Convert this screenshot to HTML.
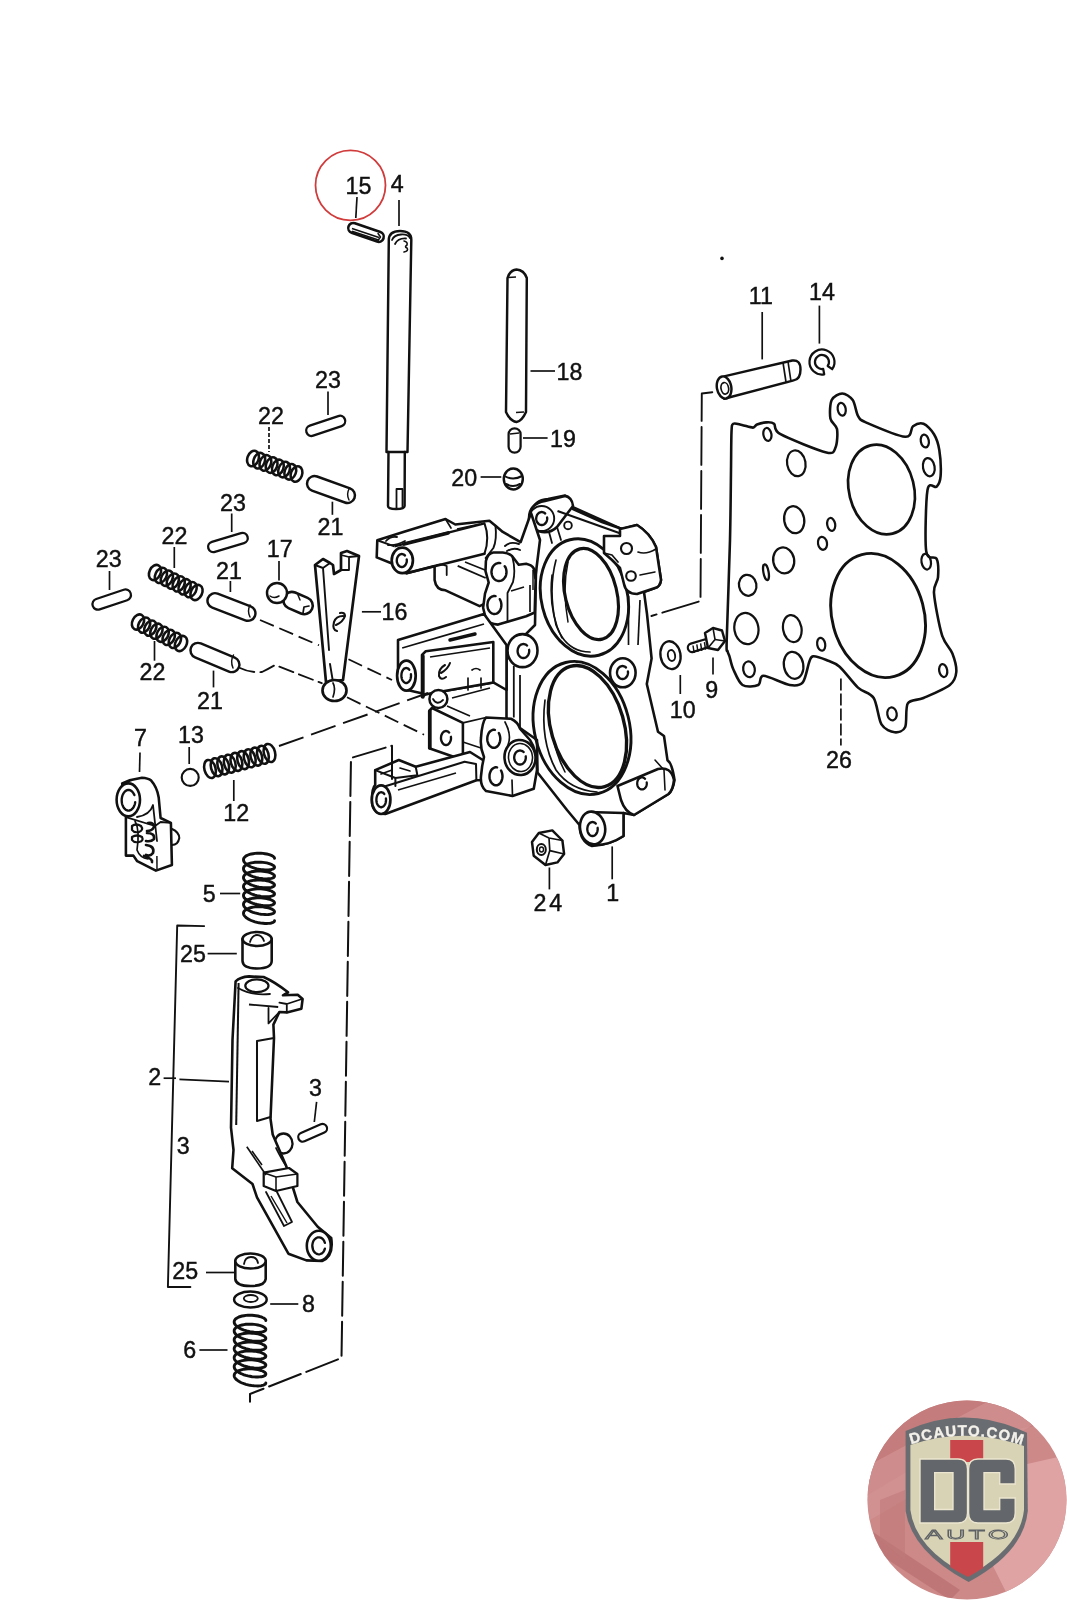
<!DOCTYPE html>
<html><head><meta charset="utf-8"><style>
html,body{margin:0;padding:0;background:#fff;}
body{width:1067px;height:1600px;overflow:hidden;position:relative;}
svg{position:absolute;left:0;top:0;will-change:transform;}
text{font-family:"Liberation Sans",sans-serif;}
</style></head><body>
<svg width="1067" height="1600" viewBox="0 0 1067 1600">
<path d="M531,513 Q534,500 548,499 L565,495.5 Q571,497 573,509 L602,522 L622,529 L637,525 Q650,533 656,547 L661,580 Q660,587 655,588 L644,592 L647,614 L651.6,658.5 L646.8,684 L658,731.7 L664,736 L667.5,760.4 Q672,763 674.5,780 Q673,790 668.5,794 L634,815 L623.5,813 L623.5,836 Q610,845 592,846 Q580,842 579.5,825 L567,810 L537.5,772.5 L537,740 L520,728 L506.5,718 L506.5,660 L520,640 L535,625 L536,570 L531,535 Z" fill="#fff" stroke="#111" stroke-width="2.58" stroke-linejoin="round" stroke-linecap="round" />
<ellipse cx="584.4" cy="597.5" rx="43" ry="59.5" fill="none" stroke="#111" stroke-width="2.91" transform="rotate(-14 584.4 597.5)"/>
<path d="M556,560 Q548,590 556,625 Q566,652 590,652" fill="none" stroke="#111" stroke-width="1.68" stroke-linejoin="round" stroke-linecap="round" />
<path d="M552,575 Q548,610 562,638" fill="none" stroke="#111" stroke-width="1.57" stroke-linejoin="round" stroke-linecap="round" />
<ellipse cx="591" cy="594" rx="25.8" ry="46.5" fill="#fff" stroke="#111" stroke-width="3.14" transform="rotate(-14 591 594)"/>
<path d="M568,562 Q562,590 568,622" fill="none" stroke="#111" stroke-width="1.46" stroke-linejoin="round" stroke-linecap="round" />
<ellipse cx="582" cy="728" rx="47.5" ry="67.5" fill="none" stroke="#111" stroke-width="2.91" transform="rotate(-14 582 728)"/>
<path d="M545,700 Q540,740 556,770 Q570,790 597,792" fill="none" stroke="#111" stroke-width="1.68" stroke-linejoin="round" stroke-linecap="round" />
<path d="M552,690 Q546,735 565,772" fill="none" stroke="#111" stroke-width="1.57" stroke-linejoin="round" stroke-linecap="round" />
<ellipse cx="587.5" cy="726.5" rx="36.5" ry="62.5" fill="#fff" stroke="#111" stroke-width="3.36" transform="rotate(-16 587.5 726.5)"/>
<path d="M529,518 Q529,504 545,501 L565,496 Q572,497 573,506 L557,527 Q551,533 542,532 Q529,530 529,518 Z" fill="#fff" stroke="#111" stroke-width="2.58" stroke-linejoin="round" stroke-linecap="round" />
<circle cx="541.7" cy="518.5" r="12.5" fill="none" stroke="#111" stroke-width="1.90"/>
<path d="M547.1,517.4 L547.2,518.3 L547.2,519.2 L547.0,520.1 L546.8,520.9 L546.5,521.8 L546.0,522.5 L545.5,523.2 L544.9,523.8 L544.3,524.2 L543.6,524.6 L542.8,524.9 L542.1,525.0 L541.3,525.0 L540.6,524.9 L539.8,524.6 L539.1,524.2 L538.5,523.8 L537.9,523.2 L537.4,522.5 L536.9,521.8 L536.6,520.9 L536.4,520.1 L536.2,519.2 L536.2,518.3 L536.3,517.4 L536.5,516.5 L536.8,515.7 L537.1,514.9 L537.6,514.2 L538.2,513.5 L538.8,513.0 L539.5,512.6 L540.2,512.3 L540.9,512.1 L541.7,512.0 L542.5,512.1 L543.2,512.3 L543.9,512.6 L544.6,513.0 L545.2,513.5" fill="none" stroke="#111" stroke-width="2.35" stroke-linecap="round"/>
<path d="M549,532 L552,543 M557,527 L561,540" fill="none" stroke="#111" stroke-width="1.79" stroke-linejoin="round" stroke-linecap="round" />
<line x1="557.5" y1="511" x2="622" y2="534" stroke="#111" stroke-width="2.13"/>
<line x1="573" y1="507" x2="622" y2="529" stroke="#111" stroke-width="2.13"/>
<circle cx="568" cy="525.4" r="3.8" fill="none" stroke="#111" stroke-width="1.90"/>
<path d="M620,529 L637,525 Q650,533 656,547 L661,580 Q660,587 655,588 L637,594 Q626,594 624,584 L620,568 L612,560 L604,553 L604,536 L620,536 Z" fill="#fff" stroke="#111" stroke-width="2.58" stroke-linejoin="round" stroke-linecap="round" />
<path d="M604,553 L612,555 L618,562" fill="none" stroke="#111" stroke-width="1.68" stroke-linejoin="round" stroke-linecap="round" />
<path d="M638,552 Q646,555 656,549" fill="none" stroke="#111" stroke-width="1.68" stroke-linejoin="round" stroke-linecap="round" />
<path d="M640,575 L655,572" fill="none" stroke="#111" stroke-width="1.57" stroke-linejoin="round" stroke-linecap="round" />
<circle cx="626.5" cy="548.5" r="5.5" fill="none" stroke="#111" stroke-width="2.13"/>
<circle cx="631" cy="576" r="4.8" fill="none" stroke="#111" stroke-width="2.13"/>
<line x1="628.5" y1="596" x2="628.5" y2="645" stroke="#111" stroke-width="1.68"/>
<line x1="640" y1="600" x2="638" y2="645" stroke="#111" stroke-width="1.68"/>
<ellipse cx="622.8" cy="672.8" rx="12.8" ry="14.5" fill="#fff" stroke="#111" stroke-width="2.58"/>
<path d="M627.9,671.4 L628.0,672.3 L628.0,673.2 L627.8,674.1 L627.6,674.9 L627.3,675.8 L626.8,676.5 L626.3,677.2 L625.7,677.8 L625.1,678.2 L624.4,678.6 L623.6,678.9 L622.9,679.0 L622.1,679.0 L621.4,678.9 L620.6,678.6 L619.9,678.2 L619.3,677.8 L618.7,677.2 L618.2,676.5 L617.7,675.8 L617.4,674.9 L617.2,674.1 L617.0,673.2 L617.0,672.3 L617.1,671.4 L617.3,670.5 L617.6,669.7 L617.9,668.9 L618.4,668.2 L619.0,667.5 L619.6,667.0 L620.3,666.6 L621.0,666.3 L621.7,666.1 L622.5,666.0 L623.3,666.1 L624.0,666.3 L624.7,666.6 L625.4,667.0 L626.0,667.5" fill="none" stroke="#111" stroke-width="2.35" stroke-linecap="round"/>
<path d="M617.5,786 L658,769 Q671,766 674,780 Q673,790 668.5,794 L634,815 Q625,812 621,800 Z" fill="#fff" stroke="#111" stroke-width="2.58" stroke-linejoin="round" stroke-linecap="round" />
<path d="M646.7,782.4 L646.8,783.2 L646.8,784.0 L646.7,784.9 L646.5,785.6 L646.2,786.4 L645.8,787.1 L645.3,787.7 L644.8,788.3 L644.3,788.7 L643.6,789.0 L643.0,789.3 L642.3,789.4 L641.7,789.4 L641.0,789.3 L640.4,789.0 L639.7,788.7 L639.2,788.3 L638.7,787.7 L638.2,787.1 L637.8,786.4 L637.5,785.6 L637.3,784.9 L637.2,784.0 L637.2,783.2 L637.3,782.4 L637.4,781.5 L637.7,780.8 L638.0,780.0 L638.4,779.4 L638.9,778.8 L639.5,778.3 L640.0,777.9 L640.7,777.6 L641.3,777.5 L642.0,777.4 L642.7,777.5 L643.3,777.6 L644.0,777.9 L644.5,778.3 L645.1,778.8" fill="none" stroke="#111" stroke-width="2.24" stroke-linecap="round"/>
<path d="M655,760 L664,770 L665,790" fill="none" stroke="#111" stroke-width="1.57" stroke-linejoin="round" stroke-linecap="round" />
<path d="M623.5,813 L623.5,836 Q610,845 595,845 L588,812 Z" fill="#fff" stroke="#111" stroke-width="2.58" stroke-linejoin="round" stroke-linecap="round" />
<ellipse cx="592.6" cy="828" rx="12.5" ry="16.5" fill="#fff" stroke="#111" stroke-width="2.58" transform="rotate(-10 592.6 828)"/>
<path d="M597.6,827.8 L597.7,828.8 L597.7,829.7 L597.5,830.7 L597.3,831.6 L597.0,832.5 L596.6,833.3 L596.1,834.0 L595.6,834.7 L594.9,835.2 L594.3,835.6 L593.6,835.8 L592.9,836.0 L592.1,836.0 L591.4,835.8 L590.7,835.6 L590.1,835.2 L589.4,834.7 L588.9,834.0 L588.4,833.3 L588.0,832.5 L587.7,831.6 L587.5,830.7 L587.3,829.7 L587.3,828.8 L587.4,827.8 L587.6,826.8 L587.8,825.9 L588.2,825.1 L588.6,824.3 L589.2,823.6 L589.7,823.1 L590.4,822.6 L591.1,822.3 L591.8,822.1 L592.5,822.0 L593.2,822.1 L593.9,822.3 L594.6,822.6 L595.3,823.1 L595.8,823.6" fill="none" stroke="#111" stroke-width="2.35" stroke-linecap="round"/>
<ellipse cx="522.5" cy="650.6" rx="15" ry="16.5" fill="#fff" stroke="#111" stroke-width="2.58"/>
<path d="M529.1,649.8 L529.2,650.8 L529.2,651.7 L529.0,652.7 L528.8,653.6 L528.4,654.5 L528.0,655.3 L527.4,656.0 L526.8,656.7 L526.1,657.2 L525.4,657.6 L524.6,657.8 L523.8,658.0 L523.0,658.0 L522.2,657.8 L521.4,657.6 L520.7,657.2 L520.0,656.7 L519.4,656.0 L518.8,655.3 L518.4,654.5 L518.0,653.6 L517.8,652.7 L517.6,651.7 L517.6,650.8 L517.7,649.8 L517.9,648.8 L518.2,647.9 L518.6,647.1 L519.1,646.3 L519.7,645.6 L520.3,645.1 L521.0,644.6 L521.8,644.3 L522.6,644.1 L523.4,644.0 L524.2,644.1 L525.0,644.3 L525.8,644.6 L526.5,645.1 L527.1,645.6" fill="none" stroke="#111" stroke-width="2.35" stroke-linecap="round"/>
<line x1="506.3" y1="657.5" x2="506.3" y2="690" stroke="#111" stroke-width="1.79"/>
<line x1="513.8" y1="666" x2="513.8" y2="717.5" stroke="#111" stroke-width="1.79"/>
<line x1="520" y1="675" x2="520" y2="735" stroke="#111" stroke-width="1.79"/>
<path d="M377.3,540.3 L404.1,531.8 L445.5,519 L455.3,524.5 L489.4,520.8 L495.5,525.7 L502.8,531.9 L520.6,542.2 L531,513 L540,540 L535,580 L479.6,606.1 L445.5,590.3 Q436,590 434.6,580 L434.6,566 L406.5,573.2 Q399,573 392,563.5 L376.7,557.4 Z" fill="#fff" stroke="#111" stroke-width="2.58" stroke-linejoin="round" stroke-linecap="round" />
<line x1="394.4" y1="546.4" x2="484.5" y2="523.3" stroke="#111" stroke-width="2.35"/>
<line x1="377.3" y1="540.3" x2="394.4" y2="546.4" stroke="#111" stroke-width="2.02"/>
<path d="M404.1,544 L448,533" fill="none" stroke="#111" stroke-width="3.81" stroke-linejoin="round" stroke-linecap="round" />
<line x1="457" y1="529" x2="480" y2="524" stroke="#111" stroke-width="1.79"/>
<path d="M445.5,519 L451,528" fill="none" stroke="#111" stroke-width="1.68" stroke-linejoin="round" stroke-linecap="round" />
<path d="M484.5,523.3 Q490,538 484.5,553.7" fill="none" stroke="#111" stroke-width="2.02" stroke-linejoin="round" stroke-linecap="round" />
<path d="M406.5,573.2 L484.5,553.7" fill="none" stroke="#111" stroke-width="2.46" stroke-linejoin="round" stroke-linecap="round" />
<path d="M386,541 Q390,536 397,537 M388,545 Q396,546 405,541" fill="none" stroke="#111" stroke-width="1.79" stroke-linejoin="round" stroke-linecap="round" />
<path d="M434.6,566 Q440,563 446.7,566 L446.7,575" fill="none" stroke="#111" stroke-width="1.79" stroke-linejoin="round" stroke-linecap="round" />
<line x1="457.7" y1="565.9" x2="485.7" y2="578" stroke="#111" stroke-width="1.90"/>
<line x1="465" y1="562" x2="490" y2="572" stroke="#111" stroke-width="1.68"/>
<path d="M495.5,525.7 Q497,540 493.4,548 L485.6,558" fill="none" stroke="#111" stroke-width="1.90" stroke-linejoin="round" stroke-linecap="round" />
<path d="M505,546 Q510,541 519,544 M507,551 Q514,547 520,550" fill="none" stroke="#111" stroke-width="1.90" stroke-linejoin="round" stroke-linecap="round" />
<ellipse cx="402.3" cy="560.4" rx="10.6" ry="12.8" fill="#fff" stroke="#111" stroke-width="2.69"/>
<path d="M406.7,559.4 L406.8,560.3 L406.8,561.2 L406.7,562.1 L406.4,562.9 L406.1,563.8 L405.7,564.5 L405.3,565.2 L404.7,565.8 L404.1,566.2 L403.5,566.6 L402.8,566.9 L402.1,567.0 L401.5,567.0 L400.8,566.9 L400.1,566.6 L399.5,566.2 L398.9,565.8 L398.3,565.2 L397.9,564.5 L397.5,563.8 L397.2,562.9 L396.9,562.1 L396.8,561.2 L396.8,560.3 L396.9,559.4 L397.0,558.5 L397.3,557.7 L397.7,556.9 L398.1,556.2 L398.6,555.5 L399.2,555.0 L399.8,554.6 L400.4,554.3 L401.1,554.1 L401.8,554.0 L402.5,554.1 L403.2,554.3 L403.8,554.6 L404.4,555.0 L405.0,555.5" fill="none" stroke="#111" stroke-width="2.35" stroke-linecap="round"/>
<path d="M485.9,561 Q488,553 493.4,552.5 L502.8,552.5 Q509,553 512.2,556.2 L518.7,564.7 L526.2,563.7 Q532,565 533.7,568.4 L535.6,579.7 L534.7,612.5 L526.2,616.2 L507.5,621.8 L498.1,624.6 Q489,624 485.9,619 L483.1,607.8 L485,593.7 L488.7,582.5 L485.5,571.2 Z" fill="#fff" stroke="#111" stroke-width="2.58" stroke-linejoin="round" stroke-linecap="round" />
<path d="M504.7,566.2 L505.4,567.2 L505.9,568.3 L506.2,569.5 L506.4,570.7 L506.5,572.0 L506.4,573.3 L506.2,574.5 L505.9,575.7 L505.4,576.8 L504.7,577.8 L504.0,578.7 L503.2,579.5 L502.3,580.1 L501.3,580.6 L500.3,580.9 L499.3,581.0 L498.2,581.0 L497.2,580.7 L496.2,580.3 L495.2,579.8 L494.4,579.1 L493.6,578.3 L492.9,577.3 L492.4,576.2 L492.0,575.1 L491.7,573.9 L491.5,572.6 L491.5,571.4 L491.7,570.1 L492.0,568.9 L492.4,567.8 L492.9,566.7 L493.6,565.7 L494.4,564.9 L495.2,564.2 L496.2,563.7 L497.2,563.3 L498.2,563.0 L499.3,563.0 L500.3,563.1" fill="none" stroke="#111" stroke-width="2.46" stroke-linecap="round"/>
<path d="M499.8,599.2 L500.3,600.2 L500.8,601.3 L501.1,602.5 L501.3,603.7 L501.4,605.0 L501.3,606.3 L501.1,607.5 L500.8,608.7 L500.3,609.8 L499.8,610.8 L499.1,611.7 L498.3,612.5 L497.5,613.1 L496.6,613.6 L495.6,613.9 L494.6,614.0 L493.7,614.0 L492.7,613.7 L491.8,613.3 L490.9,612.8 L490.1,612.1 L489.4,611.3 L488.7,610.3 L488.2,609.2 L487.8,608.1 L487.6,606.9 L487.4,605.6 L487.4,604.4 L487.6,603.1 L487.8,601.9 L488.2,600.8 L488.7,599.7 L489.4,598.7 L490.1,597.9 L490.9,597.2 L491.8,596.7 L492.7,596.3 L493.7,596.0 L494.6,596.0 L495.6,596.1" fill="none" stroke="#111" stroke-width="2.46" stroke-linecap="round"/>
<path d="M512.2,556.2 Q516,570 513,582 L507.5,593 L507.5,621.8" fill="none" stroke="#111" stroke-width="1.79" stroke-linejoin="round" stroke-linecap="round" />
<line x1="511" y1="591" x2="524" y2="587" stroke="#111" stroke-width="1.68"/>
<line x1="530" y1="585" x2="530" y2="612" stroke="#111" stroke-width="1.68"/>
<line x1="533" y1="570" x2="533" y2="590" stroke="#111" stroke-width="1.46"/>
<path d="M398,640 L484,614 L506.5,645 L506.5,690 L493.3,682.4 L425.8,694.2 L410.6,690.8 Q401,690 398,676 Z" fill="#fff" stroke="#111" stroke-width="2.58" stroke-linejoin="round" stroke-linecap="round" />
<line x1="402.2" y1="648" x2="484" y2="624" stroke="#111" stroke-width="1.79"/>
<path d="M422,655 L425.8,651.2 L493.3,642 L493.3,682.4 L425.8,694.2 L422,697 Z" fill="#fff" stroke="#111" stroke-width="2.58" stroke-linejoin="round" stroke-linecap="round" />
<path d="M423,656 L423,697" fill="none" stroke="#111" stroke-width="3.36" stroke-linejoin="round" stroke-linecap="round" />
<line x1="430" y1="657" x2="490" y2="648" stroke="#111" stroke-width="1.57"/>
<path d="M445,665 Q438,669 439,676 Q441,681 446,677 M441,673 Q448,669 450,663" fill="none" stroke="#111" stroke-width="2.02" stroke-linejoin="round" stroke-linecap="round" />
<path d="M472,670 Q476,667 480,670 M468,678 L468,690 M481,678 L481,688" fill="none" stroke="#111" stroke-width="1.68" stroke-linejoin="round" stroke-linecap="round" />
<path d="M450,640 L475,634" fill="none" stroke="#111" stroke-width="3.36" stroke-linejoin="round" stroke-linecap="round" />
<ellipse cx="406.4" cy="675.7" rx="9.3" ry="15" fill="#fff" stroke="#111" stroke-width="2.69"/>
<path d="M410.9,674.2 L411.0,675.2 L411.0,676.3 L410.9,677.3 L410.7,678.3 L410.4,679.2 L410.0,680.1 L409.5,680.9 L409.0,681.6 L408.5,682.1 L407.8,682.5 L407.2,682.8 L406.5,683.0 L405.9,683.0 L405.2,682.8 L404.6,682.5 L403.9,682.1 L403.4,681.6 L402.9,680.9 L402.4,680.1 L402.0,679.2 L401.7,678.3 L401.5,677.3 L401.4,676.3 L401.4,675.2 L401.5,674.2 L401.6,673.2 L401.9,672.2 L402.2,671.3 L402.6,670.5 L403.1,669.8 L403.7,669.1 L404.2,668.6 L404.9,668.3 L405.5,668.1 L406.2,668.0 L406.9,668.1 L407.5,668.3 L408.2,668.6 L408.7,669.1 L409.3,669.8" fill="none" stroke="#111" stroke-width="2.35" stroke-linecap="round"/>
<circle cx="438.4" cy="699" r="9" fill="#fff" stroke="#111" stroke-width="2.46"/>
<path d="M433,699 Q437,706 443,700" fill="none" stroke="#111" stroke-width="1.79" stroke-linejoin="round" stroke-linecap="round" />
<line x1="447" y1="706" x2="470" y2="716" stroke="#111" stroke-width="1.68"/>
<line x1="452" y1="698" x2="490" y2="688" stroke="#111" stroke-width="1.68"/>
<path d="M429.2,711 L432,708 L462.9,722.9 L462.9,760 L429.2,748.2 Z" fill="#fff" stroke="#111" stroke-width="2.58" stroke-linejoin="round" stroke-linecap="round" />
<path d="M430,711 L430,748" fill="none" stroke="#111" stroke-width="3.36" stroke-linejoin="round" stroke-linecap="round" />
<path d="M450.9,736.8 L451.0,737.8 L451.0,738.7 L450.9,739.7 L450.6,740.6 L450.3,741.5 L449.9,742.3 L449.5,743.0 L448.9,743.7 L448.3,744.2 L447.7,744.6 L447.0,744.8 L446.3,745.0 L445.7,745.0 L445.0,744.8 L444.3,744.6 L443.7,744.2 L443.1,743.7 L442.5,743.0 L442.1,742.3 L441.7,741.5 L441.4,740.6 L441.1,739.7 L441.0,738.7 L441.0,737.8 L441.1,736.8 L441.2,735.8 L441.5,734.9 L441.9,734.1 L442.3,733.3 L442.8,732.6 L443.4,732.1 L444.0,731.6 L444.6,731.3 L445.3,731.1 L446.0,731.0 L446.7,731.1 L447.4,731.3 L448.0,731.6 L448.6,732.1 L449.2,732.6" fill="none" stroke="#111" stroke-width="2.35" stroke-linecap="round"/>
<line x1="462.9" y1="722.9" x2="486" y2="717.5" stroke="#111" stroke-width="1.68"/>
<line x1="462.9" y1="742" x2="481" y2="748" stroke="#111" stroke-width="1.57"/>
<path d="M375.2,770.1 L398.8,760 L415.7,766.8 L470,752 L486,762 L486,780 L476.4,780.3 L385.3,814 Q372,814 372,800 Q372,788 375.2,785 Z" fill="#fff" stroke="#111" stroke-width="2.58" stroke-linejoin="round" stroke-linecap="round" />
<line x1="385.3" y1="786.2" x2="464.6" y2="761.7" stroke="#111" stroke-width="2.24"/>
<path d="M375.2,770.1 L395.4,778 L417.4,775.2 L415.7,766.8 M395.4,778 L395.4,786" fill="none" stroke="#111" stroke-width="2.02" stroke-linejoin="round" stroke-linecap="round" />
<path d="M381,774 L392,770 M400,768 L410,771" fill="none" stroke="#111" stroke-width="1.68" stroke-linejoin="round" stroke-linecap="round" />
<line x1="398" y1="790" x2="456" y2="773" stroke="#111" stroke-width="1.57"/>
<path d="M464.6,761.7 L476,764 L476.4,780.3" fill="none" stroke="#111" stroke-width="2.02" stroke-linejoin="round" stroke-linecap="round" />
<ellipse cx="381.1" cy="799.7" rx="9.3" ry="14.3" fill="#fff" stroke="#111" stroke-width="2.69"/>
<path d="M385.9,798.4 L386.0,799.4 L386.0,800.5 L385.9,801.5 L385.7,802.5 L385.4,803.5 L385.0,804.3 L384.5,805.1 L384.0,805.8 L383.5,806.3 L382.8,806.7 L382.2,807.0 L381.5,807.2 L380.9,807.2 L380.2,807.0 L379.6,806.7 L378.9,806.3 L378.4,805.8 L377.9,805.1 L377.4,804.3 L377.0,803.5 L376.7,802.5 L376.5,801.5 L376.4,800.5 L376.4,799.4 L376.5,798.4 L376.6,797.4 L376.9,796.4 L377.2,795.5 L377.6,794.7 L378.1,794.0 L378.7,793.3 L379.2,792.8 L379.9,792.5 L380.5,792.3 L381.2,792.2 L381.9,792.3 L382.5,792.5 L383.2,792.8 L383.7,793.3 L384.3,794.0" fill="none" stroke="#111" stroke-width="2.35" stroke-linecap="round"/>
<path d="M486,717.5 L511,718.75 Q518,722 520,728.75 L530,740 Q537,750 537,770 L533.75,788.75 L512.5,796 L486,791 Q480,786 481,776 Q482,765 484,757 Q480,748 481,738 Q482,722 486,717.5 Z" fill="#fff" stroke="#111" stroke-width="2.58" stroke-linejoin="round" stroke-linecap="round" />
<path d="M498.8,733.0 L499.3,734.0 L499.7,735.1 L500.0,736.3 L500.2,737.5 L500.3,738.8 L500.2,740.1 L500.0,741.3 L499.7,742.5 L499.3,743.6 L498.8,744.6 L498.1,745.5 L497.4,746.3 L496.6,746.9 L495.8,747.4 L494.9,747.7 L494.0,747.8 L493.1,747.8 L492.2,747.5 L491.4,747.1 L490.6,746.6 L489.8,745.9 L489.1,745.1 L488.5,744.1 L488.1,743.0 L487.7,741.9 L487.4,740.7 L487.3,739.4 L487.3,738.2 L487.4,736.9 L487.7,735.7 L488.1,734.6 L488.5,733.5 L489.1,732.5 L489.8,731.7 L490.6,731.0 L491.4,730.5 L492.2,730.1 L493.1,729.8 L494.0,729.8 L494.9,729.9" fill="none" stroke="#111" stroke-width="2.46" stroke-linecap="round"/>
<path d="M501.0,770.5 L501.5,771.5 L501.9,772.6 L502.2,773.8 L502.4,775.0 L502.5,776.3 L502.4,777.6 L502.2,778.8 L501.9,780.0 L501.5,781.1 L501.0,782.1 L500.3,783.0 L499.6,783.8 L498.8,784.4 L498.0,784.9 L497.1,785.2 L496.2,785.3 L495.3,785.3 L494.4,785.0 L493.6,784.6 L492.8,784.1 L492.0,783.4 L491.3,782.6 L490.7,781.6 L490.3,780.5 L489.9,779.4 L489.6,778.2 L489.5,776.9 L489.5,775.7 L489.6,774.4 L489.9,773.2 L490.3,772.1 L490.7,771.0 L491.3,770.0 L492.0,769.2 L492.8,768.5 L493.6,768.0 L494.4,767.6 L495.3,767.3 L496.2,767.3 L497.1,767.4" fill="none" stroke="#111" stroke-width="2.46" stroke-linecap="round"/>
<ellipse cx="520" cy="757.5" rx="15.5" ry="17.5" fill="#fff" stroke="#111" stroke-width="2.58" transform="rotate(-5 520 757.5)"/>
<ellipse cx="520.5" cy="757.5" rx="12" ry="14" fill="none" stroke="#111" stroke-width="1.57" transform="rotate(-5 520.5 757.5)"/>
<path d="M525.7,756.3 L525.8,757.3 L525.8,758.2 L525.6,759.2 L525.4,760.1 L525.0,761.0 L524.6,761.8 L524.0,762.5 L523.4,763.2 L522.7,763.7 L522.0,764.1 L521.2,764.3 L520.4,764.5 L519.6,764.5 L518.8,764.3 L518.0,764.1 L517.3,763.7 L516.6,763.2 L516.0,762.5 L515.4,761.8 L515.0,761.0 L514.6,760.1 L514.4,759.2 L514.2,758.2 L514.2,757.3 L514.3,756.3 L514.5,755.3 L514.8,754.4 L515.2,753.6 L515.7,752.8 L516.3,752.1 L516.9,751.6 L517.6,751.1 L518.4,750.8 L519.2,750.6 L520.0,750.5 L520.8,750.6 L521.6,750.8 L522.4,751.1 L523.1,751.6 L523.7,752.1" fill="none" stroke="#111" stroke-width="2.35" stroke-linecap="round"/>
<path d="M505,722 Q512,735 508,745" fill="none" stroke="#111" stroke-width="1.68" stroke-linejoin="round" stroke-linecap="round" />
<path d="M512.5,796 L512,780" fill="none" stroke="#111" stroke-width="1.68" stroke-linejoin="round" stroke-linecap="round" />
<circle cx="350.5" cy="185.3" r="35" fill="none" stroke="#d13b3b" stroke-width="1.79"/>
<text x="0" y="0" font-size="24.5" text-anchor="middle" fill="#111" stroke="#111" stroke-width="0.45" letter-spacing="0" transform="translate(358.4 193.8) scale(0.95 1)">15</text>
<text x="0" y="0" font-size="24.5" text-anchor="middle" fill="#111" stroke="#111" stroke-width="0.45" letter-spacing="0" transform="translate(397.2 191.8) scale(0.95 1)">4</text>
<line x1="357" y1="197" x2="355.8" y2="218" stroke="#111" stroke-width="1.68"/>
<line x1="399" y1="200" x2="399" y2="226" stroke="#111" stroke-width="1.68"/>
<rect x="347.5" y="227.4" width="37.0" height="10" rx="5.0" ry="5.0" fill="#fff" stroke="#111" stroke-width="2.58" transform="rotate(19.1 366.0 232.4)"/>
<line x1="352" y1="228.5" x2="379" y2="237.5" stroke="#111" stroke-width="1.46"/>
<line x1="352" y1="231.3" x2="378.5" y2="240" stroke="#111" stroke-width="1.46"/>
<path d="M378,233.5 L380.5,237 L378,240.5" fill="none" stroke="#111" stroke-width="1.46" stroke-linejoin="round" stroke-linecap="round" />
<path d="M386.5,452 L388.8,240 Q389,231 400,231 Q411.5,231 411.3,240 L407.5,452 Z" fill="#fff" stroke="#111" stroke-width="2.46" stroke-linejoin="round" stroke-linecap="round" />
<path d="M392,240 Q394,235 401,234.5 Q408,234 410,238 M395,244 Q398,238 406,238.5" fill="none" stroke="#111" stroke-width="1.79" stroke-linejoin="round" stroke-linecap="round" />
<path d="M404,241 Q408,242 407,245 Q404,247 407,248 Q409,251 404,252" fill="none" stroke="#111" stroke-width="1.57" stroke-linejoin="round" stroke-linecap="round" />
<line x1="389" y1="452" x2="407.5" y2="452" stroke="#111" stroke-width="2.02"/>
<path d="M388.5,452 L388,506 Q388,509 396,509 Q404.5,509 404.6,506 L404.8,452" fill="none" stroke="#111" stroke-width="2.46" stroke-linejoin="round" stroke-linecap="round" />
<path d="M396.5,509 L396.5,489 L402.5,489 L402.5,507" fill="none" stroke="#111" stroke-width="1.79" stroke-linejoin="round" stroke-linecap="round" />
<path d="M507.5,278 Q510,270 516.5,269.5 Q524,270 526.8,278 L526,412 Q522,421 516.5,422 Q510,421 506,412 Z" fill="#fff" stroke="#111" stroke-width="2.46" stroke-linejoin="round" stroke-linecap="round" />
<line x1="508" y1="277.5" x2="516" y2="277" stroke="#111" stroke-width="1.34"/>
<line x1="516" y1="412.5" x2="524" y2="412" stroke="#111" stroke-width="1.34"/>
<line x1="530.5" y1="371" x2="555" y2="371" stroke="#111" stroke-width="1.68"/>
<text x="0" y="0" font-size="24.5" text-anchor="middle" fill="#111" stroke="#111" stroke-width="0.45" letter-spacing="0" transform="translate(569.5 379.6) scale(0.95 1)">18</text>
<rect x="508.6" y="428.3" width="12" height="24.4" rx="6" ry="6" fill="#fff" stroke="#111" stroke-width="2.24"/>
<line x1="510" y1="434" x2="519" y2="433" stroke="#111" stroke-width="1.34"/>
<line x1="523" y1="438" x2="547.6" y2="438" stroke="#111" stroke-width="1.68"/>
<text x="0" y="0" font-size="24.5" text-anchor="middle" fill="#111" stroke="#111" stroke-width="0.45" letter-spacing="0" transform="translate(562.9 446.6) scale(0.95 1)">19</text>
<ellipse cx="513.3" cy="479" rx="9.5" ry="10.5" fill="#fff" stroke="#111" stroke-width="2.46"/>
<path d="M504.5,476 Q513,481 522,476" fill="none" stroke="#111" stroke-width="2.02" stroke-linejoin="round" stroke-linecap="round" />
<path d="M506,484 Q513,488 520,484" fill="none" stroke="#111" stroke-width="2.02" stroke-linejoin="round" stroke-linecap="round" />
<line x1="480.6" y1="477" x2="501.3" y2="477" stroke="#111" stroke-width="1.68"/>
<text x="0" y="0" font-size="24.5" text-anchor="middle" fill="#111" stroke="#111" stroke-width="0.45" letter-spacing="0" transform="translate(464.2 485.6) scale(0.95 1)">20</text>
<text x="0" y="0" font-size="24.5" text-anchor="middle" fill="#111" stroke="#111" stroke-width="0.45" letter-spacing="0" transform="translate(328 387.6) scale(0.95 1)">23</text>
<line x1="328" y1="391.5" x2="328" y2="415" stroke="#111" stroke-width="1.68"/>
<rect x="305.4" y="420.6" width="40.6" height="10.5" rx="5.25" ry="5.25" fill="#fff" stroke="#111" stroke-width="2.35" transform="rotate(-18.7 325.8 425.8)"/>
<text x="0" y="0" font-size="24.5" text-anchor="middle" fill="#111" stroke="#111" stroke-width="0.45" letter-spacing="0" transform="translate(270.9 424.3) scale(0.95 1)">22</text>
<line x1="269" y1="427" x2="269" y2="452" stroke="#111" stroke-width="1.68" stroke-dasharray="4,2"/>
<ellipse cx="253.0" cy="458.5" rx="5.6" ry="8.0" fill="none" stroke="#111" stroke-width="2.58" transform="rotate(19.6 253.0 458.5)"/>
<ellipse cx="259.2" cy="460.7" rx="5.6" ry="8.0" fill="none" stroke="#111" stroke-width="2.58" transform="rotate(19.6 259.2 460.7)"/>
<ellipse cx="265.4" cy="462.9" rx="5.6" ry="8.0" fill="none" stroke="#111" stroke-width="2.58" transform="rotate(19.6 265.4 462.9)"/>
<ellipse cx="271.6" cy="465.1" rx="5.6" ry="8.0" fill="none" stroke="#111" stroke-width="2.58" transform="rotate(19.6 271.6 465.1)"/>
<ellipse cx="277.9" cy="467.4" rx="5.6" ry="8.0" fill="none" stroke="#111" stroke-width="2.58" transform="rotate(19.6 277.9 467.4)"/>
<ellipse cx="284.1" cy="469.6" rx="5.6" ry="8.0" fill="none" stroke="#111" stroke-width="2.58" transform="rotate(19.6 284.1 469.6)"/>
<ellipse cx="290.3" cy="471.8" rx="5.6" ry="8.0" fill="none" stroke="#111" stroke-width="2.58" transform="rotate(19.6 290.3 471.8)"/>
<ellipse cx="296.5" cy="474.0" rx="5.6" ry="8.0" fill="none" stroke="#111" stroke-width="2.58" transform="rotate(19.6 296.5 474.0)"/>
<rect x="306.0" y="482.0" width="50.0" height="15" rx="7.5" ry="7.5" fill="#fff" stroke="#111" stroke-width="2.46" transform="rotate(19.9 331.0 489.5)"/>
<path d="M349.5,488 Q346,494 349,500" fill="none" stroke="#111" stroke-width="1.46" stroke-linejoin="round" stroke-linecap="round" />
<text x="0" y="0" font-size="24.5" text-anchor="middle" fill="#111" stroke="#111" stroke-width="0.45" letter-spacing="0" transform="translate(330.5 534.5) scale(0.95 1)">21</text>
<line x1="332.4" y1="501.7" x2="332.4" y2="514.8" stroke="#111" stroke-width="1.68"/>
<text x="0" y="0" font-size="24.5" text-anchor="middle" fill="#111" stroke="#111" stroke-width="0.45" letter-spacing="0" transform="translate(232.9 511) scale(0.95 1)">23</text>
<line x1="231.7" y1="513.5" x2="231.7" y2="532" stroke="#111" stroke-width="1.68"/>
<rect x="207.5" y="537.2" width="40.9" height="10.5" rx="5.25" ry="5.25" fill="#fff" stroke="#111" stroke-width="2.35" transform="rotate(-16.8 228.0 542.5)"/>
<text x="0" y="0" font-size="24.5" text-anchor="middle" fill="#111" stroke="#111" stroke-width="0.45" letter-spacing="0" transform="translate(174.5 543.7) scale(0.95 1)">22</text>
<line x1="174.3" y1="547" x2="174.3" y2="568" stroke="#111" stroke-width="1.68"/>
<ellipse cx="155.0" cy="572.5" rx="5.6" ry="8.0" fill="none" stroke="#111" stroke-width="2.58" transform="rotate(25.7 155.0 572.5)"/>
<ellipse cx="160.9" cy="575.4" rx="5.6" ry="8.0" fill="none" stroke="#111" stroke-width="2.58" transform="rotate(25.7 160.9 575.4)"/>
<ellipse cx="166.9" cy="578.2" rx="5.6" ry="8.0" fill="none" stroke="#111" stroke-width="2.58" transform="rotate(25.7 166.9 578.2)"/>
<ellipse cx="172.8" cy="581.1" rx="5.6" ry="8.0" fill="none" stroke="#111" stroke-width="2.58" transform="rotate(25.7 172.8 581.1)"/>
<ellipse cx="178.7" cy="583.9" rx="5.6" ry="8.0" fill="none" stroke="#111" stroke-width="2.58" transform="rotate(25.7 178.7 583.9)"/>
<ellipse cx="184.6" cy="586.8" rx="5.6" ry="8.0" fill="none" stroke="#111" stroke-width="2.58" transform="rotate(25.7 184.6 586.8)"/>
<ellipse cx="190.6" cy="589.6" rx="5.6" ry="8.0" fill="none" stroke="#111" stroke-width="2.58" transform="rotate(25.7 190.6 589.6)"/>
<ellipse cx="196.5" cy="592.5" rx="5.6" ry="8.0" fill="none" stroke="#111" stroke-width="2.58" transform="rotate(25.7 196.5 592.5)"/>
<rect x="206.3" y="599.5" width="50.3" height="15" rx="7.5" ry="7.5" fill="#fff" stroke="#111" stroke-width="2.46" transform="rotate(21.0 231.5 607.0)"/>
<path d="M250,605 Q247,611 250,617" fill="none" stroke="#111" stroke-width="1.46" stroke-linejoin="round" stroke-linecap="round" />
<text x="0" y="0" font-size="24.5" text-anchor="middle" fill="#111" stroke="#111" stroke-width="0.45" letter-spacing="0" transform="translate(229 579.3) scale(0.95 1)">21</text>
<line x1="230.4" y1="581" x2="230.4" y2="592" stroke="#111" stroke-width="1.68"/>
<text x="0" y="0" font-size="24.5" text-anchor="middle" fill="#111" stroke="#111" stroke-width="0.45" letter-spacing="0" transform="translate(108.8 566.5) scale(0.95 1)">23</text>
<line x1="109.5" y1="571" x2="109.5" y2="590" stroke="#111" stroke-width="1.68"/>
<rect x="91.7" y="594.1" width="40.0" height="11" rx="5.5" ry="5.5" fill="#fff" stroke="#111" stroke-width="2.24" transform="rotate(-18.5 111.7 599.6)"/>
<text x="0" y="0" font-size="24.5" text-anchor="middle" fill="#111" stroke="#111" stroke-width="0.45" letter-spacing="0" transform="translate(152.4 680.4) scale(0.95 1)">22</text>
<line x1="154.5" y1="641" x2="154.5" y2="660.7" stroke="#111" stroke-width="1.68"/>
<ellipse cx="138.0" cy="622.0" rx="5.6" ry="8.0" fill="none" stroke="#111" stroke-width="2.58" transform="rotate(26.6 138.0 622.0)"/>
<ellipse cx="144.1" cy="625.1" rx="5.6" ry="8.0" fill="none" stroke="#111" stroke-width="2.58" transform="rotate(26.6 144.1 625.1)"/>
<ellipse cx="150.3" cy="628.1" rx="5.6" ry="8.0" fill="none" stroke="#111" stroke-width="2.58" transform="rotate(26.6 150.3 628.1)"/>
<ellipse cx="156.4" cy="631.2" rx="5.6" ry="8.0" fill="none" stroke="#111" stroke-width="2.58" transform="rotate(26.6 156.4 631.2)"/>
<ellipse cx="162.6" cy="634.3" rx="5.6" ry="8.0" fill="none" stroke="#111" stroke-width="2.58" transform="rotate(26.6 162.6 634.3)"/>
<ellipse cx="168.7" cy="637.4" rx="5.6" ry="8.0" fill="none" stroke="#111" stroke-width="2.58" transform="rotate(26.6 168.7 637.4)"/>
<ellipse cx="174.9" cy="640.4" rx="5.6" ry="8.0" fill="none" stroke="#111" stroke-width="2.58" transform="rotate(26.6 174.9 640.4)"/>
<ellipse cx="181.0" cy="643.5" rx="5.6" ry="8.0" fill="none" stroke="#111" stroke-width="2.58" transform="rotate(26.6 181.0 643.5)"/>
<rect x="189.0" y="650.0" width="51.8" height="15" rx="7.5" ry="7.5" fill="#fff" stroke="#111" stroke-width="2.46" transform="rotate(22.7 214.9 657.5)"/>
<path d="M233.5,655 Q230,661 233,668" fill="none" stroke="#111" stroke-width="1.46" stroke-linejoin="round" stroke-linecap="round" />
<text x="0" y="0" font-size="24.5" text-anchor="middle" fill="#111" stroke="#111" stroke-width="0.45" letter-spacing="0" transform="translate(210 708.5) scale(0.95 1)">21</text>
<line x1="213.5" y1="670.6" x2="213.5" y2="687.4" stroke="#111" stroke-width="1.68"/>
<text x="0" y="0" font-size="24.5" text-anchor="middle" fill="#111" stroke="#111" stroke-width="0.45" letter-spacing="0" transform="translate(279.7 556.7) scale(0.95 1)">17</text>
<line x1="279" y1="561" x2="279" y2="580.6" stroke="#111" stroke-width="1.68"/>
<rect x="282.8" y="594.5" width="30.5" height="17" rx="8.5" ry="8.5" fill="#fff" stroke="#111" stroke-width="2.58" transform="rotate(23.2 298.0 603.0)"/>
<path d="M303,613 L304,607 L309,606" fill="none" stroke="#111" stroke-width="1.68" stroke-linejoin="round" stroke-linecap="round" />
<path d="M298,595 L300,600" fill="none" stroke="#111" stroke-width="1.46" stroke-linejoin="round" stroke-linecap="round" />
<circle cx="277" cy="593" r="10" fill="#fff" stroke="#111" stroke-width="2.46"/>
<path d="M270,596 Q274,599 279,596" fill="none" stroke="#111" stroke-width="1.46" stroke-linejoin="round" stroke-linecap="round" />
<path d="M315,565 L323,559 L330,563 L333,565 L334,574 L341,570 L341,553 L347,551 L359,556 L343,680 L326,682 Z" fill="#fff" stroke="#111" stroke-width="2.69" stroke-linejoin="round" stroke-linecap="round" />
<path d="M315,565 L323,568 L330,563 M323,568 L329,650 M330,664 L333,682" fill="none" stroke="#111" stroke-width="1.90" stroke-linejoin="round" stroke-linecap="round" />
<path d="M341,555 L349,557 L359,556 M349,557 L349,570 L341,570" fill="none" stroke="#111" stroke-width="1.79" stroke-linejoin="round" stroke-linecap="round" />
<ellipse cx="334.5" cy="690.5" rx="12" ry="10.5" fill="#fff" stroke="#111" stroke-width="2.69"/>
<path d="M333,683 Q336,688 333,697" fill="none" stroke="#111" stroke-width="1.68" stroke-linejoin="round" stroke-linecap="round" />
<path d="M343,616 Q336,616 334,622 Q332,630 337,631 M336,625 Q343,622 345,616 Q345,612 340,613" fill="none" stroke="#111" stroke-width="2.13" stroke-linejoin="round" stroke-linecap="round" />
<line x1="361.9" y1="611.8" x2="381" y2="611.8" stroke="#111" stroke-width="1.68"/>
<text x="0" y="0" font-size="24.5" text-anchor="middle" fill="#111" stroke="#111" stroke-width="0.45" letter-spacing="0" transform="translate(394.5 620.3) scale(0.95 1)">16</text>
<line x1="260" y1="620" x2="319" y2="645.3" stroke="#111" stroke-width="1.79" stroke-dasharray="15,6"/>
<line x1="348.5" y1="659.3" x2="392" y2="680" stroke="#111" stroke-width="1.79" stroke-dasharray="15,6"/>
<path d="M240,668 Q250,673 262,672 Q270,668 275,665 L321.8,683.2" fill="none" stroke="#111" stroke-width="1.79" stroke-linejoin="round" stroke-linecap="round" stroke-dasharray="15,6"/>
<line x1="347" y1="697.3" x2="424" y2="734.7" stroke="#111" stroke-width="1.79" stroke-dasharray="15,6"/>
<path d="M731.5,432.0 C731.8,425.1 731.7,424.8 733.3,423.7 C734.9,422.6 739.0,424.4 742.0,425.0 C745.0,425.6 750.8,427.7 753.0,427.6 C755.2,427.5 755.0,425.3 757.0,424.5 C759.0,423.7 763.5,422.5 766.0,422.4 C768.5,422.3 771.8,421.9 774.0,423.7 C776.2,425.5 772.6,429.9 780.5,434.2 C788.4,438.5 818.1,450.5 826.4,452.5 C834.7,454.5 834.0,450.8 835.6,447.3 C837.2,443.8 837.8,433.3 837.0,429.0 C836.2,424.7 831.2,422.8 830.4,418.4 C829.6,414.0 829.9,403.7 831.7,400.0 C833.5,396.3 839.1,393.5 842.2,393.5 C845.4,393.5 850.3,396.7 852.7,400.0 C855.1,403.3 856.0,412.4 858.0,415.8 C860.0,419.2 858.7,419.2 865.8,422.4 C872.9,425.5 898.1,436.2 905.2,436.8 C912.3,437.4 910.3,428.3 913.0,426.3 C915.7,424.3 920.4,422.5 923.5,423.7 C926.6,424.9 931.6,430.3 934.0,434.2 C936.4,438.1 938.3,443.7 939.3,450.0 C940.3,456.3 941.0,470.7 940.6,476.2 C940.2,481.7 938.7,484.6 936.7,486.7 C934.7,488.8 929.1,480.3 927.5,490.0 C925.9,499.7 924.8,540.9 926.2,551.2 C927.6,561.6 934.9,555.1 936.7,559.0 C938.5,562.9 938.4,572.3 938.0,577.4 C937.6,582.5 933.4,584.5 934.0,593.2 C934.6,601.9 939.2,626.2 942.0,635.2 C944.8,644.2 950.3,648.0 952.4,653.5 C954.5,659.0 956.7,667.3 956.3,672.0 C955.9,676.7 954.7,681.1 949.8,685.0 C944.9,688.9 929.8,695.2 923.5,698.0 C917.2,700.8 910.5,699.0 907.8,703.4 C905.1,707.8 907.2,722.7 905.2,727.0 C903.2,731.3 898.3,732.7 894.7,732.3 C891.1,731.9 884.6,729.5 881.5,724.4 C878.4,719.3 877.2,703.5 873.7,698.0 C870.2,692.5 863.1,692.3 858.0,687.6 C852.9,682.9 844.3,670.8 839.6,666.7 C834.9,662.6 830.3,661.6 826.4,660.0 C822.5,658.4 815.8,656.0 813.3,656.2 C810.8,656.4 811.0,657.5 809.4,661.4 C807.8,665.3 805.8,678.9 802.8,682.4 C799.8,685.9 795.6,686.0 789.7,685.0 C783.8,684.0 768.2,675.8 763.5,675.8 C758.8,675.8 761.4,683.6 758.2,685.0 C755.1,686.4 746.2,687.4 742.5,685.0 C738.8,682.6 735.3,673.6 733.3,669.3 C731.3,665.0 730.3,658.9 729.4,656.2 C728.5,653.5 727.9,653.4 727.5,651.0 C727.1,648.6 726.3,656.6 726.7,640.0 C727.1,623.4 729.4,565.5 730.0,540.0 C730.6,514.5 730.8,486.2 731.0,470.0 C731.2,453.8 731.2,438.9 731.5,432.0 Z" fill="#fff" stroke="#111" stroke-width="2.58" stroke-linejoin="round" stroke-linecap="round" />
<ellipse cx="767.4" cy="434.4" rx="4" ry="6.5" fill="none" stroke="#111" stroke-width="2.24" transform="rotate(-10 767.4 434.4)"/>
<ellipse cx="796.3" cy="463.3" rx="9.2" ry="13" fill="none" stroke="#111" stroke-width="2.24" transform="rotate(-10 796.3 463.3)"/>
<ellipse cx="794.2" cy="519.7" rx="10" ry="13.6" fill="none" stroke="#111" stroke-width="2.24" transform="rotate(-10 794.2 519.7)"/>
<ellipse cx="783.7" cy="560.4" rx="10.5" ry="13" fill="none" stroke="#111" stroke-width="2.24" transform="rotate(-10 783.7 560.4)"/>
<ellipse cx="766" cy="572.2" rx="2.6" ry="8" fill="none" stroke="#111" stroke-width="2.24" transform="rotate(-10 766 572.2)"/>
<ellipse cx="747.7" cy="585.3" rx="8.7" ry="10.5" fill="none" stroke="#111" stroke-width="2.24" transform="rotate(-10 747.7 585.3)"/>
<ellipse cx="746.4" cy="628.6" rx="12" ry="15.7" fill="none" stroke="#111" stroke-width="2.24" transform="rotate(-10 746.4 628.6)"/>
<ellipse cx="792.3" cy="628.6" rx="9.2" ry="13.6" fill="none" stroke="#111" stroke-width="2.24" transform="rotate(-10 792.3 628.6)"/>
<ellipse cx="793.6" cy="665.3" rx="9.7" ry="13.6" fill="none" stroke="#111" stroke-width="2.24" transform="rotate(-10 793.6 665.3)"/>
<ellipse cx="749" cy="669.3" rx="5.8" ry="7.9" fill="none" stroke="#111" stroke-width="2.24" transform="rotate(-10 749 669.3)"/>
<ellipse cx="831.2" cy="524.4" rx="4" ry="6.5" fill="none" stroke="#111" stroke-width="2.24" transform="rotate(-10 831.2 524.4)"/>
<ellipse cx="822.5" cy="543.3" rx="4.5" ry="6.5" fill="none" stroke="#111" stroke-width="2.24" transform="rotate(-10 822.5 543.3)"/>
<ellipse cx="821.2" cy="644.3" rx="4" ry="6.5" fill="none" stroke="#111" stroke-width="2.24" transform="rotate(-10 821.2 644.3)"/>
<ellipse cx="924.8" cy="441" rx="4" ry="6.5" fill="none" stroke="#111" stroke-width="2.24" transform="rotate(-10 924.8 441)"/>
<ellipse cx="928.8" cy="467.2" rx="5.8" ry="9.2" fill="none" stroke="#111" stroke-width="2.24" transform="rotate(-10 928.8 467.2)"/>
<ellipse cx="926.2" cy="561.7" rx="4.7" ry="7.9" fill="none" stroke="#111" stroke-width="2.24" transform="rotate(-10 926.2 561.7)"/>
<ellipse cx="943.2" cy="670.6" rx="4" ry="6.5" fill="none" stroke="#111" stroke-width="2.24" transform="rotate(-10 943.2 670.6)"/>
<ellipse cx="892" cy="713.9" rx="4.7" ry="6.5" fill="none" stroke="#111" stroke-width="2.24" transform="rotate(-10 892 713.9)"/>
<ellipse cx="841.7" cy="409.2" rx="4" ry="6.5" fill="none" stroke="#111" stroke-width="2.24" transform="rotate(-10 841.7 409.2)"/>
<ellipse cx="881.5" cy="489.5" rx="32.5" ry="45.5" fill="none" stroke="#111" stroke-width="2.69" transform="rotate(-14 881.5 489.5)"/>
<ellipse cx="878.1" cy="615.5" rx="46" ry="63" fill="none" stroke="#111" stroke-width="2.91" transform="rotate(-15 878.1 615.5)"/>
<text x="0" y="0" font-size="24.5" text-anchor="middle" fill="#111" stroke="#111" stroke-width="0.45" letter-spacing="0" transform="translate(838.9 767.7) scale(0.95 1)">26</text>
<line x1="840.9" y1="678.5" x2="840.9" y2="745.4" stroke="#111" stroke-width="1.68" stroke-dasharray="12,3"/>
<text x="0" y="0" font-size="24.5" text-anchor="middle" fill="#111" stroke="#111" stroke-width="0.45" letter-spacing="0" transform="translate(760.9 304.3) scale(0.95 1)">11</text>
<line x1="762.2" y1="312" x2="762.2" y2="359.4" stroke="#111" stroke-width="1.68"/>
<text x="0" y="0" font-size="24.5" text-anchor="middle" fill="#111" stroke="#111" stroke-width="0.45" letter-spacing="0" transform="translate(821.9 300.4) scale(0.95 1)">14</text>
<line x1="819.4" y1="305.6" x2="819.4" y2="343.6" stroke="#111" stroke-width="1.68"/>
<path d="M724.1,376.4 L792.3,360.5 Q800.5,359.5 800.5,369.5 Q800.5,379.5 793.6,380.4 L724.1,398.7" fill="#fff" stroke="#111" stroke-width="2.46" stroke-linejoin="round" stroke-linecap="round" />
<ellipse cx="724.1" cy="387.5" rx="7.2" ry="11.2" fill="#fff" stroke="#111" stroke-width="2.46" transform="rotate(-10 724.1 387.5)"/>
<ellipse cx="724.8" cy="388.3" rx="3.8" ry="5.8" fill="none" stroke="#111" stroke-width="1.68" transform="rotate(-10 724.8 388.3)"/>
<line x1="783" y1="362.5" x2="786" y2="382" stroke="#111" stroke-width="1.68"/>
<line x1="788" y1="361.5" x2="791" y2="381.5" stroke="#111" stroke-width="1.68"/>
<path d="M824.2,374.3 A12.5,12.5 0 1 1 832.2,369.2 L827.7,366.0 A7.0,7.0 0 1 0 823.2,368.9 Z" fill="#fff" stroke="#111" stroke-width="2.24" stroke-linejoin="round" stroke-linecap="round" />
<polyline points="712.3,392.2 701.8,393.5 700.5,601 651.4,616" fill="none" stroke="#111" stroke-width="1.90" stroke-linejoin="round" stroke-linecap="round" stroke-dasharray="38,6"/>
<circle cx="722" cy="258.4" r="1.8" fill="#111"/>
<rect x="687.5" y="641.5" width="22.0" height="8.5" rx="4.25" ry="4.25" fill="#fff" stroke="#111" stroke-width="2.24" transform="rotate(-17.2 698.5 645.8)"/>
<line x1="693.0" y1="645.5" x2="694.2" y2="653.0" stroke="#111" stroke-width="1.46"/>
<line x1="696.8" y1="644.4" x2="698.0" y2="651.9" stroke="#111" stroke-width="1.46"/>
<line x1="700.6" y1="643.3" x2="701.8000000000001" y2="650.8" stroke="#111" stroke-width="1.46"/>
<line x1="704.4" y1="642.2" x2="705.6" y2="649.7" stroke="#111" stroke-width="1.46"/>
<path d="M705,633 L713,628 L722,630.5 L725,641 L718,650 L708,648 Z" fill="#fff" stroke="#111" stroke-width="2.46" stroke-linejoin="round" stroke-linecap="round" />
<line x1="713" y1="628" x2="715" y2="639.5" stroke="#111" stroke-width="1.57"/>
<line x1="715" y1="639.5" x2="725" y2="641" stroke="#111" stroke-width="1.57"/>
<line x1="715" y1="639.5" x2="708" y2="648" stroke="#111" stroke-width="1.57"/>
<text x="0" y="0" font-size="24.5" text-anchor="middle" fill="#111" stroke="#111" stroke-width="0.45" letter-spacing="0" transform="translate(711.7 698) scale(0.95 1)">9</text>
<line x1="713" y1="657.5" x2="713" y2="674.5" stroke="#111" stroke-width="1.68"/>
<ellipse cx="670.5" cy="655.2" rx="10" ry="14" fill="#fff" stroke="#111" stroke-width="2.35" transform="rotate(-10 670.5 655.2)"/>
<ellipse cx="671.5" cy="655.5" rx="3.6" ry="5.5" fill="none" stroke="#111" stroke-width="1.90" transform="rotate(-10 671.5 655.5)"/>
<text x="0" y="0" font-size="24.5" text-anchor="middle" fill="#111" stroke="#111" stroke-width="0.45" letter-spacing="0" transform="translate(682.7 718) scale(0.95 1)">10</text>
<line x1="680.3" y1="675" x2="680.3" y2="694" stroke="#111" stroke-width="1.68"/>
<path d="M532,842 L538.8,833 L552.3,830.4 L562.4,840.5 L564.1,854 L557.4,862.4 L545.5,865 L533.7,855.7 Z" fill="#fff" stroke="#111" stroke-width="2.46" stroke-linejoin="round" stroke-linecap="round" />
<path d="M538.8,833 L549,838 L562.4,840.5 M549,838 L549.8,850.6 L564.1,854 M549.8,850.6 L545.5,865" fill="none" stroke="#111" stroke-width="1.68" stroke-linejoin="round" stroke-linecap="round" />
<ellipse cx="541.3" cy="849.5" rx="4.5" ry="5.5" fill="none" stroke="#111" stroke-width="2.02"/>
<ellipse cx="541.5" cy="849.5" rx="2" ry="2.5" fill="none" stroke="#111" stroke-width="1.34"/>
<text x="0" y="0" font-size="24.5" text-anchor="middle" fill="#111" stroke="#111" stroke-width="0.45" letter-spacing="3" transform="translate(549.3 911.3) scale(0.95 1)">24</text>
<line x1="549.4" y1="867.5" x2="549.4" y2="889.4" stroke="#111" stroke-width="1.68"/>
<text x="0" y="0" font-size="24.5" text-anchor="middle" fill="#111" stroke="#111" stroke-width="0.45" letter-spacing="0" transform="translate(612.6 901.2) scale(0.95 1)">1</text>
<line x1="612.2" y1="846.4" x2="612.2" y2="879.3" stroke="#111" stroke-width="1.68"/>
<text x="0" y="0" font-size="24.5" text-anchor="middle" fill="#111" stroke="#111" stroke-width="0.45" letter-spacing="0" transform="translate(140.5 746) scale(0.95 1)">7</text>
<line x1="140" y1="752.5" x2="139.5" y2="772" stroke="#111" stroke-width="1.68"/>
<path d="M122.2,783.4 Q132,779 141.9,777.8 Q148,778 151.2,780.6 Q157,787 158.7,797.5 L160.6,818 L170.9,822.8 L171.9,865 L155.9,870.6 L137.2,861.2 L133.4,855.6 L125.9,855.6 L125.9,817.2 Z" fill="#fff" stroke="#111" stroke-width="2.58" stroke-linejoin="round" stroke-linecap="round" />
<ellipse cx="128.3" cy="799.8" rx="11.7" ry="16.4" fill="#fff" stroke="#111" stroke-width="2.58"/>
<path d="M135.2,802.1 L135.0,803.5 L134.6,804.8 L134.1,806.1 L133.6,807.2 L132.9,808.2 L132.1,809.0 L131.3,809.7 L130.4,810.2 L129.4,810.5 L128.5,810.6 L127.6,810.5 L126.6,810.2 L125.7,809.7 L124.9,809.0 L124.1,808.2 L123.4,807.2 L122.9,806.1 L122.4,804.8 L122.0,803.5 L121.8,802.1 L121.7,800.7 L121.7,799.2 L121.9,797.8 L122.2,796.4 L122.6,795.1 L123.1,794.0 L123.8,792.9 L124.5,792.0 L125.3,791.2 L126.2,790.6 L127.1,790.2 L128.0,790.0 L129.0,790.0 L129.9,790.2 L130.8,790.6 L131.7,791.2 L132.5,792.0 L133.2,792.9 L133.9,794.0 L134.4,795.1" fill="none" stroke="#111" stroke-width="2.35" stroke-linecap="round"/>
<path d="M137,817 Q150,815 153,805 L157,841" fill="none" stroke="#111" stroke-width="1.79" stroke-linejoin="round" stroke-linecap="round" />
<path d="M125.9,817.2 L155,826 L160.6,822 L170.9,822.8" fill="none" stroke="#111" stroke-width="1.79" stroke-linejoin="round" stroke-linecap="round" />
<path d="M172,829 Q179,832 179.3,838 Q178,845 172,845" fill="none" stroke="#111" stroke-width="2.02" stroke-linejoin="round" stroke-linecap="round" />
<path d="M132,826 Q136,823 141,826 Q144,830 139,832 Q134,833 132,830 Z" fill="#fff" stroke="#111" stroke-width="2.24" stroke-linejoin="round" stroke-linecap="round" />
<path d="M132,837 Q137,834 142,837 Q144,841 139,842 Q134,843 132,840 Z" fill="#fff" stroke="#111" stroke-width="2.24" stroke-linejoin="round" stroke-linecap="round" />
<path d="M148,823 Q154,822 154,827 Q152,831 147,831 M147,833 Q155,833 154,839 Q151,842 146,841 M146,845 Q155,846 153,853 Q150,857 146,855 M144,856 Q153,859 152,862" fill="none" stroke="#111" stroke-width="2.69" stroke-linejoin="round" stroke-linecap="round" />
<path d="M135,821 Q140,830 137,850 Q140,858 148,859" fill="none" stroke="#111" stroke-width="1.68" stroke-linejoin="round" stroke-linecap="round" />
<line x1="156.9" y1="856" x2="157" y2="869" stroke="#111" stroke-width="1.46"/>
<text x="0" y="0" font-size="24.5" text-anchor="middle" fill="#111" stroke="#111" stroke-width="0.45" letter-spacing="0" transform="translate(191 743.3) scale(0.95 1)">13</text>
<line x1="189.2" y1="747" x2="189.2" y2="764" stroke="#111" stroke-width="1.68"/>
<circle cx="190.2" cy="777.4" r="8.5" fill="#fff" stroke="#111" stroke-width="2.13"/>
<text x="0" y="0" font-size="24.5" text-anchor="middle" fill="#111" stroke="#111" stroke-width="0.45" letter-spacing="0" transform="translate(236.2 820.7) scale(0.95 1)">12</text>
<line x1="233.8" y1="780" x2="233.8" y2="801" stroke="#111" stroke-width="1.68"/>
<ellipse cx="210.0" cy="769.0" rx="5.6" ry="9.2" fill="none" stroke="#111" stroke-width="2.58" transform="rotate(-15.1 210.0 769.0)"/>
<ellipse cx="216.6" cy="767.2" rx="5.6" ry="9.2" fill="none" stroke="#111" stroke-width="2.58" transform="rotate(-15.1 216.6 767.2)"/>
<ellipse cx="223.2" cy="765.4" rx="5.6" ry="9.2" fill="none" stroke="#111" stroke-width="2.58" transform="rotate(-15.1 223.2 765.4)"/>
<ellipse cx="229.8" cy="763.7" rx="5.6" ry="9.2" fill="none" stroke="#111" stroke-width="2.58" transform="rotate(-15.1 229.8 763.7)"/>
<ellipse cx="236.4" cy="761.9" rx="5.6" ry="9.2" fill="none" stroke="#111" stroke-width="2.58" transform="rotate(-15.1 236.4 761.9)"/>
<ellipse cx="243.1" cy="760.1" rx="5.6" ry="9.2" fill="none" stroke="#111" stroke-width="2.58" transform="rotate(-15.1 243.1 760.1)"/>
<ellipse cx="249.7" cy="758.3" rx="5.6" ry="9.2" fill="none" stroke="#111" stroke-width="2.58" transform="rotate(-15.1 249.7 758.3)"/>
<ellipse cx="256.3" cy="756.6" rx="5.6" ry="9.2" fill="none" stroke="#111" stroke-width="2.58" transform="rotate(-15.1 256.3 756.6)"/>
<ellipse cx="262.9" cy="754.8" rx="5.6" ry="9.2" fill="none" stroke="#111" stroke-width="2.58" transform="rotate(-15.1 262.9 754.8)"/>
<ellipse cx="269.5" cy="753.0" rx="5.6" ry="9.2" fill="none" stroke="#111" stroke-width="2.58" transform="rotate(-15.1 269.5 753.0)"/>
<line x1="279" y1="746" x2="428" y2="693" stroke="#111" stroke-width="1.90" stroke-dasharray="26,8"/>
<polyline points="392,779 392,745.7 351,758 341.5,1358 250,1394 250,1401.8" fill="none" stroke="#111" stroke-width="2.02" stroke-linejoin="round" stroke-linecap="round" stroke-dasharray="34,6"/>
<text x="0" y="0" font-size="24.5" text-anchor="middle" fill="#111" stroke="#111" stroke-width="0.45" letter-spacing="0" transform="translate(209.3 901.9) scale(0.95 1)">5</text>
<line x1="220" y1="893.5" x2="240.2" y2="893.5" stroke="#111" stroke-width="1.68"/>
<path d="M274.5,858.3 L274.4,857.7 L274.0,857.1 L273.3,856.5 L272.4,855.9 L271.3,855.4 L270.0,854.9 L268.4,854.4 L266.8,854.0 L264.9,853.7 L263.0,853.4 L261.0,853.3 L259.0,853.2 L257.0,853.3 L255.0,853.4 L253.1,853.7 L251.3,854.0 L249.6,854.4 L248.0,855.0 L246.7,855.6 L245.6,856.3 L244.7,857.1 L244.0,857.9 L243.6,858.8 L243.5,859.8 L243.6,860.7 L244.0,861.7 L244.7,862.6 L245.6,863.6 L246.7,864.5 L248.0,865.4 L249.6,866.2 L251.2,867.0 L253.1,867.7 L255.0,868.3 L257.0,868.9 L259.0,869.3 L261.0,869.6 L263.0,869.8 L264.9,870.0 L266.7,870.0 L268.4,869.9 L270.0,869.8 L271.3,869.5 L272.4,869.2 L273.3,868.8 L274.0,868.3 L274.4,867.8 L274.5,867.2 L274.4,866.6 L274.0,866.0 L273.3,865.4 L272.4,864.9 L271.3,864.3 L270.0,863.8 L268.4,863.3 L266.8,862.9 L264.9,862.6 L263.0,862.4 L261.0,862.2 L259.0,862.1 L257.0,862.2 L255.0,862.3 L253.1,862.6 L251.3,862.9 L249.6,863.4 L248.0,863.9 L246.7,864.5 L245.6,865.2 L244.7,866.0 L244.0,866.8 L243.6,867.7 L243.5,868.7 L243.6,869.6 L244.0,870.6 L244.7,871.6 L245.6,872.5 L246.7,873.4 L248.0,874.3 L249.6,875.2 L251.2,875.9 L253.1,876.6 L255.0,877.2 L257.0,877.8 L259.0,878.2 L261.0,878.5 L263.0,878.8 L264.9,878.9 L266.7,878.9 L268.4,878.8 L270.0,878.7 L271.3,878.4 L272.4,878.1 L273.3,877.7 L274.0,877.2 L274.4,876.7 L274.5,876.1 L274.4,875.5 L274.0,874.9 L273.3,874.4 L272.4,873.8 L271.3,873.2 L270.0,872.7 L268.4,872.2 L266.8,871.8 L264.9,871.5 L263.0,871.3 L261.0,871.1 L259.0,871.1 L257.0,871.1 L255.0,871.2 L253.1,871.5 L251.3,871.8 L249.6,872.3 L248.0,872.8 L246.7,873.4 L245.6,874.1 L244.7,874.9 L244.0,875.8 L243.6,876.7 L243.5,877.6 L243.6,878.5 L244.0,879.5 L244.7,880.5 L245.6,881.4 L246.7,882.4 L248.0,883.2 L249.6,884.1 L251.2,884.8 L253.1,885.5 L255.0,886.2 L257.0,886.7 L259.0,887.1 L261.0,887.4 L263.0,887.7 L264.9,887.8 L266.7,887.8 L268.4,887.8 L270.0,887.6 L271.3,887.3 L272.4,887.0 L273.3,886.6 L274.0,886.1 L274.4,885.6 L274.5,885.0 L274.4,884.5 L274.0,883.9 L273.3,883.3 L272.4,882.7 L271.3,882.1 L270.0,881.6 L268.4,881.2 L266.8,880.8 L264.9,880.4 L263.0,880.2 L261.0,880.0 L259.0,880.0 L257.0,880.0 L255.0,880.2 L253.1,880.4 L251.3,880.7 L249.6,881.2 L248.0,881.7 L246.7,882.4 L245.6,883.1 L244.7,883.8 L244.0,884.7 L243.6,885.6 L243.5,886.5 L243.6,887.5 L244.0,888.4 L244.7,889.4 L245.6,890.3 L246.7,891.3 L248.0,892.2 L249.6,893.0 L251.2,893.8 L253.1,894.5 L255.0,895.1 L257.0,895.6 L259.0,896.0 L261.0,896.4 L263.0,896.6 L264.9,896.7 L266.7,896.7 L268.4,896.7 L270.0,896.5 L271.3,896.2 L272.4,895.9 L273.3,895.5 L274.0,895.0 L274.4,894.5 L274.5,894.0 L274.4,893.4 L274.0,892.8 L273.3,892.2 L272.4,891.6 L271.3,891.0 L270.0,890.5 L268.4,890.1 L266.8,889.7 L264.9,889.3 L263.0,889.1 L261.0,888.9 L259.0,888.9 L257.0,888.9 L255.0,889.1 L253.1,889.3 L251.3,889.7 L249.6,890.1 L248.0,890.6 L246.7,891.3 L245.6,892.0 L244.7,892.8 L244.0,893.6 L243.6,894.5 L243.5,895.4 L243.6,896.4 L244.0,897.3 L244.7,898.3 L245.6,899.3 L246.7,900.2 L248.0,901.1 L249.6,901.9 L251.2,902.7 L253.1,903.4 L255.0,904.0 L257.0,904.5 L259.0,904.9 L261.0,905.3 L263.0,905.5 L264.9,905.6 L266.7,905.7 L268.4,905.6 L270.0,905.4 L271.3,905.2 L272.4,904.8 L273.3,904.4 L274.0,904.0 L274.4,903.4 L274.5,902.9 L274.4,902.3 L274.0,901.7 L273.3,901.1 L272.4,900.5 L271.3,900.0 L270.0,899.4 L268.4,899.0 L266.8,898.6 L264.9,898.3 L263.0,898.0 L261.0,897.9 L259.0,897.8 L257.0,897.8 L255.0,898.0 L253.1,898.2 L251.3,898.6 L249.6,899.0 L248.0,899.6 L246.7,900.2 L245.6,900.9 L244.7,901.7 L244.0,902.5 L243.6,903.4 L243.5,904.3 L243.6,905.3 L244.0,906.3 L244.7,907.2 L245.6,908.2 L246.7,909.1 L248.0,910.0 L249.6,910.8 L251.2,911.6 L253.1,912.3 L255.0,912.9 L257.0,913.4 L259.0,913.9 L261.0,914.2 L263.0,914.4 L264.9,914.5 L266.7,914.6 L268.4,914.5 L270.0,914.3 L271.3,914.1 L272.4,913.7 L273.3,913.3 L274.0,912.9 L274.4,912.3 L274.5,911.8 L274.4,911.2 L274.0,910.6 L273.3,910.0 L272.4,909.4 L271.3,908.9 L270.0,908.4 L268.4,907.9 L266.8,907.5 L264.9,907.2 L263.0,906.9 L261.0,906.8 L259.0,906.7 L257.0,906.8 L255.0,906.9 L253.1,907.1 L251.3,907.5 L249.6,907.9 L248.0,908.5 L246.7,909.1 L245.6,909.8 L244.7,910.6 L244.0,911.4 L243.6,912.3 L243.5,913.2 L243.6,914.2 L244.0,915.2 L244.7,916.1 L245.6,917.1 L246.7,918.0 L248.0,918.9 L249.6,919.7 L251.2,920.5 L253.1,921.2 L255.0,921.8 L257.0,922.3 L259.0,922.8 L261.0,923.1 L263.0,923.3 L264.9,923.5 L266.7,923.5 L268.4,923.4 L270.0,923.2 L271.3,923.0 L272.4,922.7 L273.3,922.2 L274.0,921.8 L274.4,921.3 L274.5,920.7" fill="none" stroke="#111" stroke-width="2.91" stroke-linejoin="round" stroke-linecap="round"/>
<polyline points="204.2,926.1 177.2,925.5 167.9,1287 190.4,1287" fill="none" stroke="#111" stroke-width="1.90" stroke-linejoin="round" stroke-linecap="round"/>
<text x="0" y="0" font-size="24.5" text-anchor="middle" fill="#111" stroke="#111" stroke-width="0.45" letter-spacing="0" transform="translate(154.6 1085) scale(0.95 1)">2</text>
<line x1="163.6" y1="1078.2" x2="176" y2="1078.2" stroke="#111" stroke-width="1.68"/>
<line x1="179.4" y1="1079.4" x2="229" y2="1081.6" stroke="#111" stroke-width="1.68"/>
<text x="0" y="0" font-size="24.5" text-anchor="middle" fill="#111" stroke="#111" stroke-width="0.45" letter-spacing="0" transform="translate(183.3 1153.6) scale(0.95 1)">3</text>
<path d="M242.5,939 L242.5,961 Q243,968.5 257,968.5 Q271.5,968.5 271.7,961 L271.7,939" fill="#fff" stroke="#111" stroke-width="2.58" stroke-linejoin="round" stroke-linecap="round" />
<ellipse cx="257.1" cy="939" rx="14.6" ry="7" fill="#fff" stroke="#111" stroke-width="2.58"/>
<path d="M250,942 Q252,935 257,935 Q262,935 264,941" fill="none" stroke="#111" stroke-width="1.79" stroke-linejoin="round" stroke-linecap="round" />
<text x="0" y="0" font-size="24.5" text-anchor="middle" fill="#111" stroke="#111" stroke-width="0.45" letter-spacing="0" transform="translate(193 961.5) scale(0.95 1)">25</text>
<line x1="207.6" y1="953.6" x2="236.8" y2="953.6" stroke="#111" stroke-width="1.68"/>
<ellipse cx="283.5" cy="1143.5" rx="9" ry="10" fill="#fff" stroke="#111" stroke-width="2.35"/>
<path d="M235.6,981.3 Q240,977 249,976.4 L263.6,977 Q275,982 288,992.3 L283,995.3 L297.7,994.7 L302.6,999 L301.4,1008.7 L286.8,1012.4 L279.4,1012 L273.4,1024.6 L274,1038 L270.5,1118.7 L272.7,1134.5 L286.2,1166 L297.4,1202 L317.7,1226.7 L331.2,1238 Q334,1256 322,1261 L306.4,1260.4 L288.4,1253.7 L257,1197.4 L252.5,1184 L232.2,1168.2 L233.5,1150 L231,1127.7 L232.5,1040 Z" fill="#fff" stroke="#111" stroke-width="2.58" stroke-linejoin="round" stroke-linecap="round" />
<line x1="238.6" y1="983" x2="236.2" y2="1125" stroke="#111" stroke-width="2.02"/>
<ellipse cx="256.9" cy="985.8" rx="11.6" ry="6.4" fill="#fff" stroke="#111" stroke-width="2.24"/>
<path d="M238,988 Q252,996 270,994" fill="none" stroke="#111" stroke-width="1.79" stroke-linejoin="round" stroke-linecap="round" />
<path d="M279.4,1002.6 L286.8,1004 L302,999 M286.8,1004 L286.8,1012.4" fill="none" stroke="#111" stroke-width="1.79" stroke-linejoin="round" stroke-linecap="round" />
<line x1="249" y1="1004.5" x2="278.2" y2="1007" stroke="#111" stroke-width="1.79"/>
<path d="M268.5,1008 L268.5,1023.4 L279.4,1012" fill="none" stroke="#111" stroke-width="1.79" stroke-linejoin="round" stroke-linecap="round" />
<path d="M257,1121 L257,1041 L274,1038 M257,1121 L270.5,1117" fill="none" stroke="#111" stroke-width="2.02" stroke-linejoin="round" stroke-linecap="round" />
<path d="M263.7,1172.7 L289,1168 L297.4,1174 L297.4,1186 L276,1191 L263.7,1186 Z" fill="#fff" stroke="#111" stroke-width="2.24" stroke-linejoin="round" stroke-linecap="round" />
<line x1="276" y1="1177" x2="276" y2="1191" stroke="#111" stroke-width="1.57"/>
<line x1="263.7" y1="1172.7" x2="276" y2="1177" stroke="#111" stroke-width="1.57"/>
<line x1="276" y1="1177" x2="297.4" y2="1174" stroke="#111" stroke-width="1.57"/>
<line x1="246.8" y1="1146.8" x2="266" y2="1175" stroke="#111" stroke-width="1.68"/>
<line x1="252" y1="1151" x2="262" y2="1165" stroke="#111" stroke-width="1.57"/>
<path d="M266,1192 L284,1226 L292,1222 L276,1190" fill="none" stroke="#111" stroke-width="1.79" stroke-linejoin="round" stroke-linecap="round" />
<line x1="271" y1="1196" x2="287" y2="1223" stroke="#111" stroke-width="1.46"/>
<path d="M276,1148 Q282,1160 286.2,1166" fill="none" stroke="#111" stroke-width="1.68" stroke-linejoin="round" stroke-linecap="round" />
<ellipse cx="318.8" cy="1245.8" rx="12" ry="15" fill="#fff" stroke="#111" stroke-width="2.58"/>
<path d="M324.9,1248.7 L324.5,1249.8 L324.1,1250.8 L323.5,1251.7 L322.8,1252.5 L322.1,1253.2 L321.2,1253.7 L320.4,1254.0 L319.5,1254.3 L318.6,1254.3 L317.7,1254.2 L316.8,1253.9 L316.0,1253.4 L315.2,1252.8 L314.5,1252.1 L313.8,1251.3 L313.3,1250.3 L312.9,1249.3 L312.6,1248.1 L312.4,1247.0 L312.3,1245.8 L312.4,1244.6 L312.6,1243.5 L312.9,1242.3 L313.3,1241.3 L313.8,1240.3 L314.5,1239.5 L315.2,1238.8 L316.0,1238.2 L316.8,1237.7 L317.7,1237.4 L318.6,1237.3 L319.5,1237.3 L320.4,1237.6 L321.2,1237.9 L322.1,1238.4 L322.8,1239.1 L323.5,1239.9 L324.1,1240.8 L324.5,1241.8 L324.9,1242.9" fill="none" stroke="#111" stroke-width="2.35" stroke-linecap="round"/>
<text x="0" y="0" font-size="24.5" text-anchor="middle" fill="#111" stroke="#111" stroke-width="0.45" letter-spacing="0" transform="translate(315.4 1096.2) scale(0.95 1)">3</text>
<line x1="316.6" y1="1101.9" x2="314.3" y2="1122" stroke="#111" stroke-width="1.68"/>
<rect x="297.3" y="1128.3" width="30.7" height="9" rx="4.5" ry="4.5" fill="#fff" stroke="#111" stroke-width="2.24" transform="rotate(-23.8 312.6 1132.8)"/>
<path d="M235.3,1261 L235.3,1279 Q236,1286 250.5,1286 Q265,1286 265.7,1279 L265.7,1261" fill="#fff" stroke="#111" stroke-width="2.58" stroke-linejoin="round" stroke-linecap="round" />
<ellipse cx="250.5" cy="1261" rx="15.2" ry="7.5" fill="#fff" stroke="#111" stroke-width="2.58"/>
<path d="M244,1264 Q245,1257 251,1257 Q257,1257 258,1263" fill="none" stroke="#111" stroke-width="1.79" stroke-linejoin="round" stroke-linecap="round" />
<text x="0" y="0" font-size="24.5" text-anchor="middle" fill="#111" stroke="#111" stroke-width="0.45" letter-spacing="0" transform="translate(185.3 1279.2) scale(0.95 1)">25</text>
<line x1="206" y1="1272.5" x2="234.2" y2="1272.5" stroke="#111" stroke-width="1.68"/>
<ellipse cx="250.4" cy="1299.5" rx="16.3" ry="8" fill="#fff" stroke="#111" stroke-width="2.46"/>
<ellipse cx="250.8" cy="1298.5" rx="7" ry="3.5" fill="none" stroke="#111" stroke-width="1.79"/>
<text x="0" y="0" font-size="24.5" text-anchor="middle" fill="#111" stroke="#111" stroke-width="0.45" letter-spacing="0" transform="translate(308.5 1311.9) scale(0.95 1)">8</text>
<line x1="270.2" y1="1304" x2="298.3" y2="1304" stroke="#111" stroke-width="1.68"/>
<path d="M265.8,1320.5 L265.7,1319.9 L265.3,1319.3 L264.6,1318.6 L263.7,1318.0 L262.5,1317.5 L261.2,1316.9 L259.6,1316.5 L257.9,1316.0 L256.0,1315.7 L254.1,1315.5 L252.1,1315.3 L250.0,1315.2 L247.9,1315.3 L245.9,1315.4 L244.0,1315.7 L242.1,1316.0 L240.4,1316.5 L238.8,1317.0 L237.5,1317.7 L236.3,1318.4 L235.4,1319.2 L234.7,1320.1 L234.3,1321.0 L234.2,1322.0 L234.3,1322.9 L234.7,1323.9 L235.4,1324.9 L236.3,1325.9 L237.5,1326.9 L238.8,1327.8 L240.4,1328.6 L242.1,1329.4 L244.0,1330.1 L245.9,1330.7 L247.9,1331.3 L250.0,1331.7 L252.1,1332.0 L254.1,1332.3 L256.0,1332.4 L257.9,1332.4 L259.6,1332.3 L261.2,1332.1 L262.5,1331.8 L263.7,1331.5 L264.6,1331.1 L265.3,1330.6 L265.7,1330.0 L265.8,1329.4 L265.7,1328.8 L265.3,1328.2 L264.6,1327.6 L263.7,1327.0 L262.5,1326.4 L261.2,1325.9 L259.6,1325.4 L257.9,1325.0 L256.0,1324.6 L254.1,1324.4 L252.1,1324.2 L250.0,1324.2 L247.9,1324.2 L245.9,1324.3 L244.0,1324.6 L242.1,1325.0 L240.4,1325.4 L238.8,1326.0 L237.5,1326.6 L236.3,1327.3 L235.4,1328.2 L234.7,1329.0 L234.3,1329.9 L234.2,1330.9 L234.3,1331.9 L234.7,1332.9 L235.4,1333.9 L236.3,1334.8 L237.5,1335.8 L238.8,1336.7 L240.4,1337.5 L242.1,1338.3 L244.0,1339.0 L245.9,1339.7 L247.9,1340.2 L250.0,1340.6 L252.1,1341.0 L254.1,1341.2 L256.0,1341.3 L257.9,1341.3 L259.6,1341.2 L261.2,1341.0 L262.5,1340.8 L263.7,1340.4 L264.6,1340.0 L265.3,1339.5 L265.7,1338.9 L265.8,1338.4 L265.7,1337.7 L265.3,1337.1 L264.6,1336.5 L263.7,1335.9 L262.5,1335.3 L261.2,1334.8 L259.6,1334.3 L257.9,1333.9 L256.0,1333.6 L254.1,1333.3 L252.1,1333.2 L250.0,1333.1 L247.9,1333.1 L245.9,1333.3 L244.0,1333.5 L242.1,1333.9 L240.4,1334.3 L238.8,1334.9 L237.5,1335.5 L236.3,1336.3 L235.4,1337.1 L234.7,1337.9 L234.3,1338.9 L234.2,1339.8 L234.3,1340.8 L234.7,1341.8 L235.4,1342.8 L236.3,1343.8 L237.5,1344.7 L238.8,1345.6 L240.4,1346.5 L242.1,1347.3 L244.0,1348.0 L245.9,1348.6 L247.9,1349.1 L250.0,1349.6 L252.1,1349.9 L254.1,1350.1 L256.0,1350.2 L257.9,1350.2 L259.6,1350.2 L261.2,1350.0 L262.5,1349.7 L263.7,1349.3 L264.6,1348.9 L265.3,1348.4 L265.7,1347.9 L265.8,1347.3 L265.7,1346.7 L265.3,1346.1 L264.6,1345.4 L263.7,1344.8 L262.5,1344.3 L261.2,1343.7 L259.6,1343.2 L257.9,1342.8 L256.0,1342.5 L254.1,1342.2 L252.1,1342.1 L250.0,1342.0 L247.9,1342.1 L245.9,1342.2 L244.0,1342.5 L242.1,1342.8 L240.4,1343.3 L238.8,1343.8 L237.5,1344.5 L236.3,1345.2 L235.4,1346.0 L234.7,1346.9 L234.3,1347.8 L234.2,1348.7 L234.3,1349.7 L234.7,1350.7 L235.4,1351.7 L236.3,1352.7 L237.5,1353.6 L238.8,1354.5 L240.4,1355.4 L242.1,1356.2 L244.0,1356.9 L245.9,1357.5 L247.9,1358.0 L250.0,1358.5 L252.1,1358.8 L254.1,1359.0 L256.0,1359.2 L257.9,1359.2 L259.6,1359.1 L261.2,1358.9 L262.5,1358.6 L263.7,1358.3 L264.6,1357.8 L265.3,1357.3 L265.7,1356.8 L265.8,1356.2 L265.7,1355.6 L265.3,1355.0 L264.6,1354.4 L263.7,1353.8 L262.5,1353.2 L261.2,1352.6 L259.6,1352.2 L257.9,1351.8 L256.0,1351.4 L254.1,1351.2 L252.1,1351.0 L250.0,1350.9 L247.9,1351.0 L245.9,1351.1 L244.0,1351.4 L242.1,1351.7 L240.4,1352.2 L238.8,1352.8 L237.5,1353.4 L236.3,1354.1 L235.4,1354.9 L234.7,1355.8 L234.3,1356.7 L234.2,1357.7 L234.3,1358.7 L234.7,1359.7 L235.4,1360.6 L236.3,1361.6 L237.5,1362.6 L238.8,1363.5 L240.4,1364.3 L242.1,1365.1 L244.0,1365.8 L245.9,1366.4 L247.9,1367.0 L250.0,1367.4 L252.1,1367.7 L254.1,1368.0 L256.0,1368.1 L257.9,1368.1 L259.6,1368.0 L261.2,1367.8 L262.5,1367.6 L263.7,1367.2 L264.6,1366.8 L265.3,1366.3 L265.7,1365.7 L265.8,1365.1 L265.7,1364.5 L265.3,1363.9 L264.6,1363.3 L263.7,1362.7 L262.5,1362.1 L261.2,1361.6 L259.6,1361.1 L257.9,1360.7 L256.0,1360.3 L254.1,1360.1 L252.1,1359.9 L250.0,1359.9 L247.9,1359.9 L245.9,1360.1 L244.0,1360.3 L242.1,1360.7 L240.4,1361.1 L238.8,1361.7 L237.5,1362.3 L236.3,1363.1 L235.4,1363.9 L234.7,1364.7 L234.3,1365.7 L234.2,1366.6 L234.3,1367.6 L234.7,1368.6 L235.4,1369.6 L236.3,1370.6 L237.5,1371.5 L238.8,1372.4 L240.4,1373.3 L242.1,1374.0 L244.0,1374.8 L245.9,1375.4 L247.9,1375.9 L250.0,1376.3 L252.1,1376.7 L254.1,1376.9 L256.0,1377.0 L257.9,1377.0 L259.6,1376.9 L261.2,1376.8 L262.5,1376.5 L263.7,1376.1 L264.6,1375.7 L265.3,1375.2 L265.7,1374.7 L265.8,1374.1 L265.7,1373.5 L265.3,1372.8 L264.6,1372.2 L263.7,1371.6 L262.5,1371.0 L261.2,1370.5 L259.6,1370.0 L257.9,1369.6 L256.0,1369.3 L254.1,1369.0 L252.1,1368.9 L250.0,1368.8 L247.9,1368.8 L245.9,1369.0 L244.0,1369.2 L242.1,1369.6 L240.4,1370.1 L238.8,1370.6 L237.5,1371.3 L236.3,1372.0 L235.4,1372.8 L234.7,1373.7 L234.3,1374.6 L234.2,1375.5 L234.3,1376.5 L234.7,1377.5 L235.4,1378.5 L236.3,1379.5 L237.5,1380.4 L238.8,1381.3 L240.4,1382.2 L242.1,1383.0 L244.0,1383.7 L245.9,1384.3 L247.9,1384.8 L250.0,1385.3 L252.1,1385.6 L254.1,1385.8 L256.0,1385.9 L257.9,1386.0 L259.6,1385.9 L261.2,1385.7 L262.5,1385.4 L263.7,1385.1 L264.6,1384.6 L265.3,1384.1 L265.7,1383.6 L265.8,1383.0" fill="none" stroke="#111" stroke-width="2.91" stroke-linejoin="round" stroke-linecap="round"/>
<text x="0" y="0" font-size="24.5" text-anchor="middle" fill="#111" stroke="#111" stroke-width="0.45" letter-spacing="0" transform="translate(189.8 1358) scale(0.95 1)">6</text>
<line x1="199.4" y1="1350" x2="227.5" y2="1350" stroke="#111" stroke-width="1.68"/>
<defs><clipPath id="lc"><circle cx="967" cy="1500" r="99.5"/></clipPath>
<path id="arc" d="M909,1445 Q966,1426 1025,1446"/></defs>
<g clip-path="url(#lc)">
<rect x="860" y="1395" width="210" height="210" fill="#cd8888"/>
<path d="M860,1500 L960,1440 L1067,1420 L1067,1395 L860,1395 Z" fill="#c47c7c"/>
<path d="M860,1470 L1000,1395 L1067,1395 L1067,1405 L870,1520 Z" fill="#d59898" opacity="0.6"/>
<path d="M1000,1470 L1067,1455 L1067,1560 L1010,1600 L990,1560 Z" fill="#dfa3a3"/>
<path d="M860,1560 L930,1600 L860,1600 Z" fill="#bf7575"/>
<path d="M870,1530 L960,1590 L950,1600 L865,1545 Z" fill="#b86f6f" opacity="0.7"/>
<path d="M880,1500 L905,1490 L905,1560 L880,1540 Z" fill="#c07a7a" opacity="0.6"/>
</g>
<path d="M905.6,1430.9 Q966,1403 1027,1432.8 L1027.8,1511 Q1024,1552 968.6,1582 Q912,1552 905.6,1511 Z" fill="#696d71"/>
<path d="M910.4,1445 Q966,1426 1024,1446 L1024,1510 Q1020,1548 968,1576 Q915,1548 910.4,1510 Z" fill="#d9d3b6"/>
<rect x="950.2" y="1440" width="33" height="22" fill="#c9474b"/>
<path d="M950.2,1542 L983.2,1542 L983.2,1568 Q975,1573 968,1577 Q958,1572 950.2,1567 Z" fill="#c9474b"/>
<path fill-rule="evenodd" fill="#63676b" stroke="#ece6d0" stroke-width="1.34" d="M920,1459 L958,1459 Q967.5,1459 967.5,1469 L967.5,1513 Q967.5,1523 958,1523 L920,1523 Z M934.7,1472.6 L953,1472.6 L953,1509.5 L934.7,1509.5 Z"/>
<path fill-rule="evenodd" fill="#63676b" stroke="#ece6d0" stroke-width="1.34" d="M978,1459 L1006,1459 Q1015.2,1459 1015.2,1469 L1015.2,1484 L999.7,1484 L999.7,1472.6 L984,1472.6 L984,1509.5 L999.7,1509.5 L999.7,1498 L1015.2,1498 L1015.2,1513 Q1015.2,1523 1006,1523 L978,1523 Q968.6,1523 968.6,1513 L968.6,1469 Q968.6,1459 978,1459 Z"/>
<text font-size="15" font-weight="bold" fill="#f4f1ea" stroke="#f4f1ea" stroke-width="0.40" letter-spacing="1.1"><textPath href="#arc" startOffset="50%" text-anchor="middle">DCAUTO.COM</textPath></text>
<text x="968.5" y="1539.5" font-size="16.5" text-anchor="middle" fill="#dfd9bf" stroke="#5d6165" stroke-width="1.00" letter-spacing="2.2" transform="translate(968.5 1539.5) scale(1.6 0.78) translate(-968.5 -1539.5)">AUTO</text>

</svg>
</body></html>
